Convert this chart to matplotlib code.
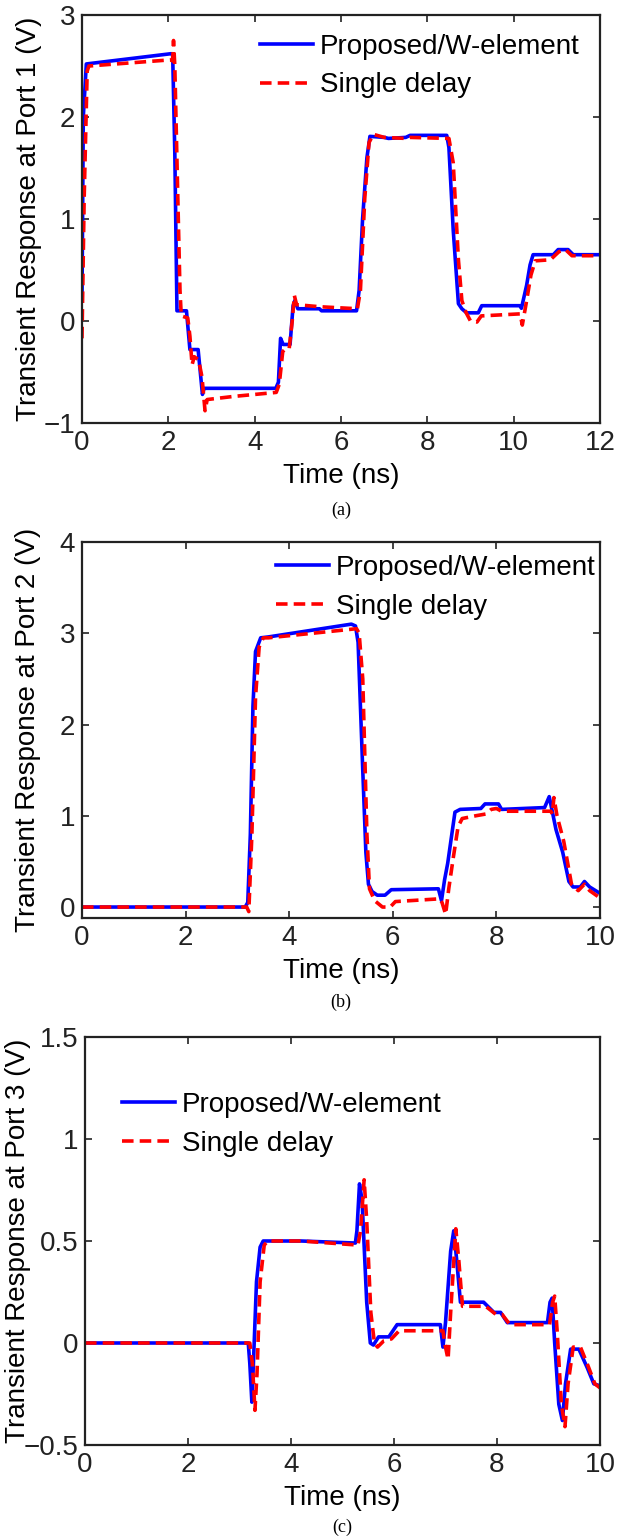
import matplotlib
matplotlib.use("Agg")
import matplotlib.pyplot as plt
import numpy as np

plt.rcParams['font.family'] = ['Liberation Sans', 'DejaVu Sans']
plt.rcParams['font.size'] = 20

# values: [time (ns), voltage (V)]
port1_proposed = np.array([
    [0, 0.2], [0.03, 2.0], [0.1, 2.52], [2.05, 2.62], [2.1, 2.62], [2.15, 1.65],
    [2.2, 0.1], [2.42, 0.1], [2.5, -0.28], [2.69, -0.28], [2.79, -0.72], [2.83, -0.66],
    [4.49, -0.66], [4.55, -0.6], [4.6, -0.17], [4.66, -0.23], [4.82, -0.23], [4.89, 0.15],
    [4.93, 0.2], [5.0, 0.12], [5.5, 0.12], [5.55, 0.1], [6.36, 0.1], [6.42, 0.3],
    [6.5, 1.0], [6.6, 1.6], [6.67, 1.81], [7.0, 1.8], [7.1, 1.79], [7.5, 1.8],
    [7.6, 1.82], [8.45, 1.82], [8.5, 1.7], [8.6, 0.89], [8.72, 0.17], [8.8, 0.12],
    [8.91, 0.08], [9.18, 0.08], [9.26, 0.15], [10.14, 0.15], [10.18, 0.125], [10.3, 0.35],
    [10.38, 0.55], [10.45, 0.65], [10.92, 0.65], [11.03, 0.7], [11.26, 0.7], [11.38, 0.65],
    [12, 0.65]])
port1_single = np.array([
    [0, -0.17], [0.05, 1.2], [0.12, 2.45], [0.16, 2.5], [2.04, 2.56], [2.1, 2.55],
    [2.12, 2.75], [2.15, 2.5], [2.22, 1.2], [2.27, 0.3], [2.3, 0.05], [2.45, 0.03],
    [2.5, -0.15], [2.55, -0.43], [2.6, -0.35], [2.7, -0.38], [2.78, -0.55], [2.85, -0.88],
    [2.9, -0.77], [3.5, -0.74], [4.5, -0.7], [4.57, -0.62], [4.65, -0.3], [4.72, -0.27],
    [4.8, -0.27], [4.87, 0.0], [4.92, 0.25], [4.97, 0.16], [5.5, 0.14], [6.38, 0.12],
    [6.45, 0.3], [6.55, 1.2], [6.65, 1.75], [6.75, 1.83], [7.0, 1.8], [7.5, 1.79],
    [7.6, 1.8], [8.5, 1.79], [8.6, 1.55], [8.72, 0.6], [8.8, 0.2], [8.9, 0.08],
    [9.0, 0.0], [9.15, -0.01], [9.25, 0.05], [10.15, 0.07], [10.2, -0.04], [10.28, 0.15],
    [10.4, 0.45], [10.5, 0.59], [10.85, 0.6], [11.05, 0.68], [11.2, 0.7], [11.35, 0.64],
    [12, 0.64]])

port2_proposed = np.array([
    [0, 0], [3.15, 0], [3.2, 0.05], [3.25, 0.8], [3.3, 2.2], [3.35, 2.8], [3.45, 2.95],
    [3.6, 2.96], [5.2, 3.1], [5.28, 3.08], [5.33, 2.9], [5.42, 1.5], [5.48, 0.6],
    [5.53, 0.25], [5.6, 0.17], [5.7, 0.13], [5.85, 0.13], [5.97, 0.19], [6.88, 0.2],
    [6.94, 0.07], [7.0, 0.3], [7.06, 0.48], [7.2, 1.04], [7.3, 1.07], [7.7, 1.08],
    [7.78, 1.13], [8.04, 1.13], [8.1, 1.07], [8.93, 1.09], [9.02, 1.21], [9.06, 1.1],
    [9.15, 0.85], [9.28, 0.6], [9.4, 0.28], [9.48, 0.22], [9.62, 0.22], [9.7, 0.28],
    [9.8, 0.22], [10, 0.15]])
port2_single = np.array([
    [0, 0], [3.18, 0], [3.22, -0.05], [3.28, 0.8], [3.35, 2.3], [3.42, 2.85], [3.5, 2.95],
    [3.6, 2.95], [5.3, 3.05], [5.35, 3.0], [5.42, 2.5], [5.5, 0.8], [5.55, 0.2],
    [5.65, 0.07], [5.8, 0.0], [5.95, 0.0], [6.05, 0.06], [6.9, 0.09], [6.95, 0.05],
    [7.02, -0.08], [7.08, 0.2], [7.17, 0.55], [7.26, 0.88], [7.34, 0.97], [7.6, 1.0],
    [7.8, 1.02], [7.9, 1.07], [8.0, 1.08], [8.1, 1.05], [9.05, 1.05], [9.08, 1.02],
    [9.11, 1.2], [9.17, 1.0], [9.3, 0.72], [9.45, 0.25], [9.58, 0.18], [9.7, 0.25],
    [9.8, 0.18], [10, 0.1]])

port3_proposed = np.array([
    [0, 0], [3.17, 0], [3.2, -0.1], [3.24, -0.29], [3.27, -0.1], [3.33, 0.3], [3.4, 0.47],
    [3.46, 0.5], [4.2, 0.5], [5.25, 0.49], [5.28, 0.55], [5.33, 0.78], [5.38, 0.7],
    [5.47, 0.2], [5.54, 0.0], [5.6, -0.01], [5.7, 0.03], [5.9, 0.03], [6.06, 0.09],
    [6.9, 0.09], [6.95, -0.02], [7.0, 0.1], [7.1, 0.45], [7.16, 0.55], [7.22, 0.4],
    [7.29, 0.2], [7.74, 0.2], [7.94, 0.15], [8.07, 0.15], [8.2, 0.1], [8.98, 0.1],
    [9.03, 0.2], [9.07, 0.22], [9.12, 0.0], [9.2, -0.3], [9.27, -0.38], [9.33, -0.2],
    [9.43, -0.03], [9.59, -0.03], [9.75, -0.12], [9.88, -0.2], [10, -0.21]])
port3_single = np.array([
    [0, 0], [3.2, 0], [3.25, -0.1], [3.3, -0.33], [3.34, -0.15], [3.4, 0.3], [3.48, 0.48],
    [3.55, 0.5], [4.2, 0.5], [5.3, 0.48], [5.35, 0.55], [5.42, 0.8], [5.47, 0.6],
    [5.55, 0.15], [5.62, 0.0], [5.68, -0.02], [5.8, 0.01], [5.95, 0.02], [6.1, 0.06],
    [6.95, 0.06], [7.0, -0.02], [7.05, -0.08], [7.1, 0.15], [7.2, 0.56], [7.26, 0.4],
    [7.33, 0.18], [7.78, 0.18], [7.98, 0.14], [8.1, 0.14], [8.25, 0.09], [9.02, 0.09],
    [9.08, 0.2], [9.12, 0.23], [9.17, 0.05], [9.25, -0.3], [9.32, -0.41], [9.38, -0.2],
    [9.48, -0.02], [9.62, -0.02], [9.78, -0.12], [9.9, -0.2], [10, -0.22]])

labels = ["Proposed/W-element", "Single delay"]

W, H = 639.0, 1539.0
fig = plt.figure(figsize=(W / 100, H / 100), dpi=100)

# box = (left, top, right, bottom) in pixels
panels = [
    dict(box=(82, 15, 600, 423), data=(port1_proposed, port1_single), xlim=(0, 12), ylim=(-1, 3),
         xt=np.arange(0, 13, 2), yt=[-1, 0, 1, 2, 3], leg=(0.344, 0.954),
         ylab="Transient Response at Port 1 (V)", ylx=-0.077, cap="(a)", capy=510),
    dict(box=(82, 542, 600, 918), data=(port2_proposed, port2_single), xlim=(0, 10), ylim=(-0.12, 4),
         xt=np.arange(0, 11, 2), yt=[0, 1, 2, 3, 4], leg=(0.375, 0.965),
         ylab="Transient Response at Port 2 (V)", ylx=-0.080, cap="(b)", capy=1002),
    dict(box=(85, 1037, 600, 1445), data=(port3_proposed, port3_single), xlim=(0, 10), ylim=(-0.5, 1.5),
         xt=np.arange(0, 11, 2), yt=[-0.5, 0, 0.5, 1, 1.5], leg=(0.072, 0.865),
         ylab="Transient Response at Port 3 (V)", ylx=-0.105, cap="(c)", capy=1527),
]

for p in panels:
    l, t, r, b = p["box"]
    ax = fig.add_axes([l / W, 1 - b / H, (r - l) / W, (b - t) / H])
    prop, single = p["data"]
    ax.plot(prop[:, 0], prop[:, 1], color=(0, 0, 1), lw=2.6, label=labels[0])
    ax.plot(single[:, 0], single[:, 1], color=(1, 0, 0), lw=2.6, ls="--", dashes=(3.2, 1.7),
            label=labels[1])
    ax.set_xlim(*p["xlim"])
    ax.set_ylim(*p["ylim"])
    ax.set_xticks(p["xt"])
    ax.set_yticks(p["yt"])
    ax.set_yticklabels(["{:g}".format(v).replace("-", "\u2212") for v in p["yt"]])
    ax.tick_params(direction="in", top=True, right=True, length=5, width=1.2, pad=5,
                   labelsize=20, colors="#222222")
    for s in ax.spines.values():
        s.set_linewidth(1.6)
        s.set_color("#222222")
    ax.set_xlabel("Time (ns)", fontsize=20, labelpad=5)
    ax.set_ylabel(p["ylab"], fontsize=20)
    ax.yaxis.set_label_coords(p["ylx"], 0.5)
    ax.legend(loc="upper left", bbox_to_anchor=p["leg"], frameon=False, fontsize=20,
              borderpad=0, borderaxespad=0, handlelength=1.9, handletextpad=0.25,
              labelspacing=0.45)
    fig.text(((l + r) / 2) / W, 1 - p["capy"] / H, p["cap"], ha="center", va="center",
             fontsize=13, family="Liberation Serif")

fig.savefig("out.png", dpi=100)
